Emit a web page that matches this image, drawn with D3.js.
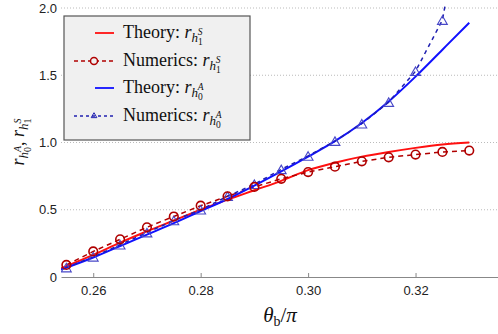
<!DOCTYPE html>
<html>
<head>
  <meta charset="utf-8">
  <script src="https://d3js.org/d3.v7.min.js"></script>
  <style>
    body { margin: 0; background: #fff; }
    .tick text { font-family: "Liberation Sans", Arial, sans-serif; font-size: 13px; fill: #222; }
    .serif { font-family: "Liberation Serif", "DejaVu Serif", serif; fill: #111; }
  </style>
</head>
<body>
<script>
  // theory curves (x grid) and numerics (sample points)
  var theoryX = [0.254, 0.26, 0.265, 0.27, 0.275, 0.28, 0.285, 0.29, 0.295, 0.30,
                 0.305, 0.31, 0.315, 0.32, 0.325, 0.33];
  var theoryS = [0.065, 0.165, 0.255, 0.34, 0.42, 0.50, 0.575, 0.645, 0.715, 0.795,
                 0.85, 0.895, 0.93, 0.96, 0.985, 1.0];
  var theoryA = [0.055, 0.145, 0.23, 0.315, 0.40, 0.49, 0.58, 0.68, 0.785, 0.895,
                 1.01, 1.145, 1.305, 1.49, 1.69, 1.89];

  var numX = [0.255, 0.26, 0.265, 0.27, 0.275, 0.28, 0.285, 0.29, 0.295, 0.30,
              0.305, 0.31, 0.315, 0.32, 0.325, 0.33];
  var numS = [0.09, 0.19, 0.28, 0.37, 0.45, 0.53, 0.60, 0.67, 0.73, 0.78,
              0.82, 0.86, 0.89, 0.91, 0.93, 0.94];
  var numA = [0.07, 0.15, 0.24, 0.33, 0.42, 0.50, 0.60, 0.69, 0.80, 0.90,
              1.01, 1.14, 1.30, 1.53, 1.91, 3.0];

  var xTicks = [0.26, 0.28, 0.30, 0.32];
  var yTicks = [0, 0.5, 1.0, 1.5, 2.0];

  var W = 498, H = 334;
  var mLeft = 61, mRight = 498, mTop = 8, mBottom = 277;

  var svg = d3.select("body").append("svg")
    .attr("width", W).attr("height", H);

  var x = d3.scaleLinear().domain([0.254, 0.33535]).range([mLeft, mRight]);
  var y = d3.scaleLinear().domain([0, 2]).range([mBottom, mTop]);

  svg.append("defs").append("clipPath").attr("id", "clip")
    .append("rect").attr("x", mLeft).attr("y", mTop - 3)
    .attr("width", mRight - mLeft).attr("height", mBottom - mTop + 3);

  // gridlines
  svg.append("g").selectAll("line")
    .data(yTicks.filter(function(d) { return d > 0; }))
    .join("line")
    .attr("x1", mLeft).attr("x2", mRight)
    .attr("y1", function(d) { return y(d); })
    .attr("y2", function(d) { return y(d); })
    .attr("stroke", "#bbb").attr("stroke-width", 1)
    .attr("stroke-dasharray", "1,2");

  // axes
  var yAxis = svg.append("g")
    .attr("transform", "translate(" + mLeft + ",0)")
    .call(d3.axisLeft(y).tickValues(yTicks).tickSize(0).tickPadding(4)
      .tickFormat(function(d) { return d === 0 ? "0" : d3.format(".1f")(d); }));
  yAxis.select(".domain").remove();

  var xAxis = svg.append("g")
    .attr("transform", "translate(0," + mBottom + ")")
    .call(d3.axisBottom(x).tickValues(xTicks).tickSizeInner(-4).tickSizeOuter(0)
      .tickPadding(9).tickFormat(d3.format(".2f")));
  xAxis.select(".domain").attr("stroke", "#888");
  xAxis.selectAll(".tick line").attr("stroke", "#888");

  var plot = svg.append("g").attr("clip-path", "url(#clip)");

  var smooth = d3.line()
    .x(function(d) { return x(d[0]); })
    .y(function(d) { return y(d[1]); })
    .curve(d3.curveMonotoneX);
  var straight = d3.line()
    .x(function(d) { return x(d[0]); })
    .y(function(d) { return y(d[1]); });

  function pairs(xs, ys) {
    return xs.map(function(v, i) { return [v, ys[i]]; });
  }

  var redT = "#ff1010", redN = "#b00000", blueT = "#1010ff", blueN = "#2020b0";

  plot.append("path").datum(pairs(theoryX, theoryS))
    .attr("d", smooth).attr("fill", "none").attr("stroke", redT).attr("stroke-width", 2);
  plot.append("path").datum(pairs(numX, numS))
    .attr("d", straight)
    .attr("fill", "none").attr("stroke", redN).attr("stroke-width", 1.5)
    .attr("stroke-dasharray", "5,4");

  plot.append("path").datum(pairs(theoryX, theoryA))
    .attr("d", smooth).attr("fill", "none").attr("stroke", blueT).attr("stroke-width", 2);
  plot.append("path").datum(pairs(numX, numA))
    .attr("d", straight)
    .attr("fill", "none").attr("stroke", blueN).attr("stroke-width", 1.5)
    .attr("stroke-dasharray", "4,4");

  // d3 triangles sit on their centroid; shift down so the box centre is on the point
  var triSize = 42;
  var triH = Math.sqrt(triSize / (Math.sqrt(3) / 4)) * Math.sqrt(3) / 2;
  var tri = d3.symbol().type(d3.symbolTriangle).size(triSize);

  plot.append("g").selectAll("path")
    .data(pairs(numX, numA))
    .join("path")
    .attr("d", tri)
    .attr("transform", function(d) {
      return "translate(" + x(d[0]) + "," + (y(d[1]) + triH / 6) + ")";
    })
    .attr("fill", "none").attr("stroke", "#4848c8").attr("stroke-width", 1.1);

  plot.append("g").selectAll("circle")
    .data(pairs(numX, numS))
    .join("circle")
    .attr("cx", function(d) { return x(d[0]); })
    .attr("cy", function(d) { return y(d[1]); })
    .attr("r", 4.3)
    .attr("fill", "none").attr("stroke", redN).attr("stroke-width", 1.6);

  // legend
  var lg = svg.append("g");
  lg.append("rect").attr("x", 64).attr("y", 16).attr("width", 186).attr("height", 124)
    .attr("fill", "#f0f0f0").attr("stroke", "#555").attr("stroke-width", 1.2);

  var entries = [
    { color: redT, dash: null, mark: null, sub: "1", sup: "S", label: "Theory: " },
    { color: redN, dash: "4,3", mark: "circle", sub: "1", sup: "S", label: "Numerics: " },
    { color: blueT, dash: null, mark: null, sub: "0", sup: "A", label: "Theory: " },
    { color: blueN, dash: "3,3", mark: "tri", sub: "0", sup: "A", label: "Numerics: " }
  ];
  var rowY = [33, 61, 88, 116];

  entries.forEach(function(e, i) {
    var yy = rowY[i];
    var g = lg.append("g");
    g.append("line").attr("x1", e.dash ? 74 : 95).attr("x2", 114).attr("y1", yy).attr("y2", yy)
      .attr("stroke", e.color).attr("stroke-width", e.dash ? 1.5 : 1.8)
      .attr("stroke-dasharray", e.dash);
    if (e.mark === "circle") {
      g.append("circle").attr("cx", 94).attr("cy", yy).attr("r", 3.5)
        .attr("fill", "#f0f0f0").attr("stroke", e.color).attr("stroke-width", 1.5);
    } else if (e.mark === "tri") {
      g.append("path").attr("d", d3.symbol().type(d3.symbolTriangle).size(14))
        .attr("transform", "translate(94," + yy + ")")
        .attr("fill", "none").attr("stroke", e.color).attr("stroke-width", 1);
    }
    var t = g.append("text").attr("class", "serif").attr("x", 123).attr("y", yy + 5)
      .style("font-size", "18px");
    t.append("tspan").text(e.label);
    t.append("tspan").style("font-style", "italic").text("r");
    t.append("tspan").attr("dy", 4).style("font-size", "13px").style("font-style", "italic").text("h");
    t.append("tspan").attr("dy", 3).style("font-size", "9.5px").text(e.sub);
    t.append("tspan").attr("dx", -5).attr("dy", -10).style("font-size", "9.5px")
      .style("font-style", "italic").text(e.sup);
  });

  // y label
  var yl = svg.append("text").attr("class", "serif")
    .attr("transform", "translate(24,142) rotate(-90)")
    .attr("text-anchor", "middle").style("font-size", "18px");
  yl.append("tspan").style("font-style", "italic").text("r");
  yl.append("tspan").attr("dy", 4).style("font-size", "13px").style("font-style", "italic").text("h");
  yl.append("tspan").attr("dy", 3).style("font-size", "10px").text("0");
  yl.append("tspan").attr("dx", -5).attr("dy", -10).style("font-size", "10px").style("font-style", "italic").text("A");
  yl.append("tspan").attr("dy", 3).text(", ");
  yl.append("tspan").style("font-style", "italic").text("r");
  yl.append("tspan").attr("dy", 4).style("font-size", "13px").style("font-style", "italic").text("h");
  yl.append("tspan").attr("dy", 3).style("font-size", "10px").text("1");
  yl.append("tspan").attr("dx", -5).attr("dy", -10).style("font-size", "10px").style("font-style", "italic").text("S");

  // x label
  var xl = svg.append("text").attr("class", "serif")
    .attr("x", 280).attr("y", 322).attr("text-anchor", "middle").style("font-size", "21px");
  xl.append("tspan").style("font-style", "italic").text("θ");
  xl.append("tspan").attr("dy", 4).style("font-size", "14px").text("b");
  xl.append("tspan").attr("dy", -4).text("/");
  xl.append("tspan").style("font-style", "italic").text("π");
</script>
</body>
</html>
